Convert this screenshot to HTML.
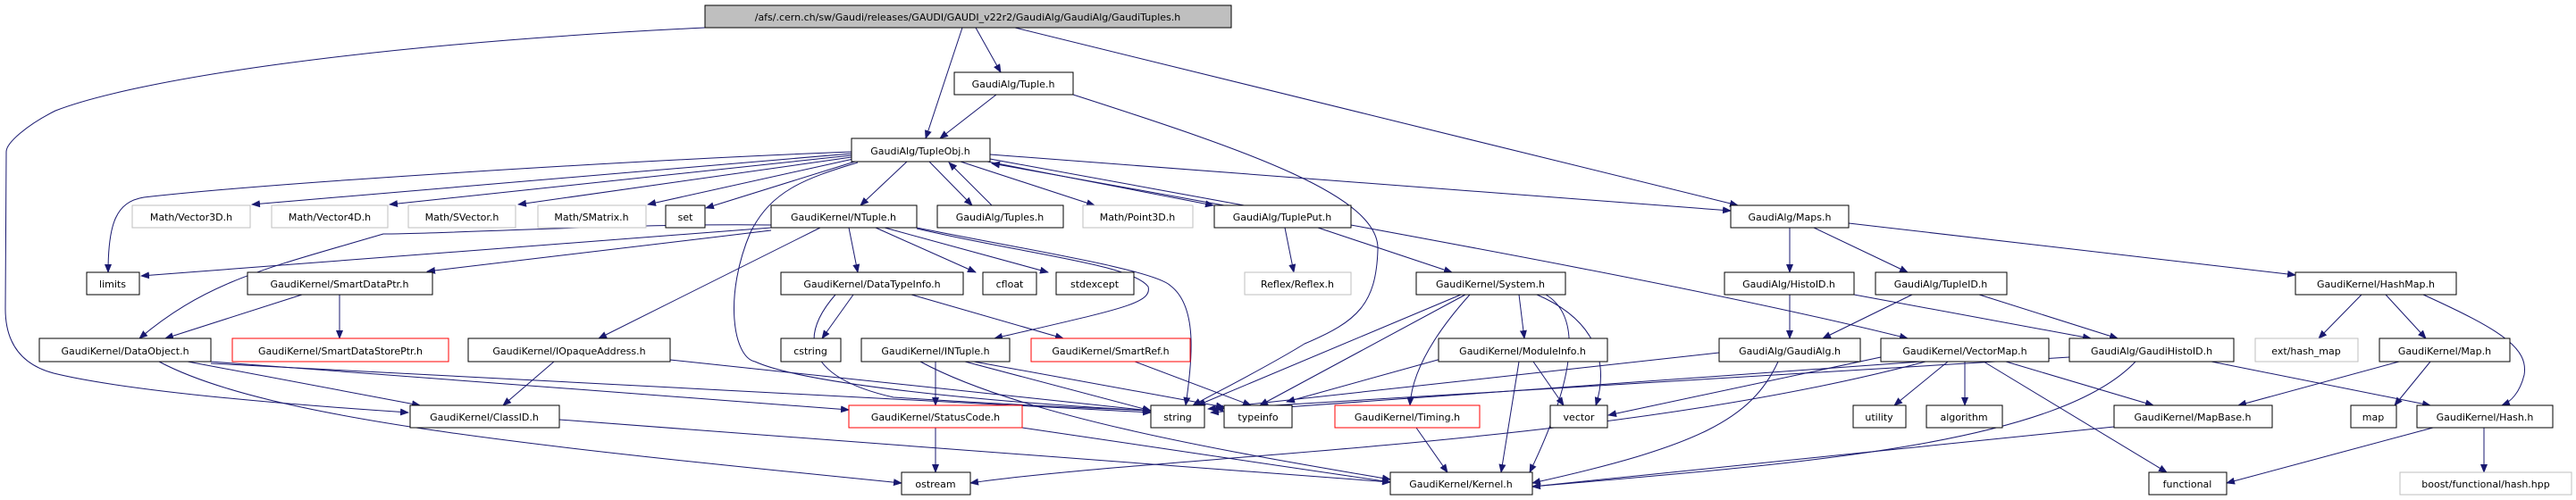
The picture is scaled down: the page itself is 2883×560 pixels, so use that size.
<!DOCTYPE html>
<html><head><meta charset="utf-8"><style>
html,body{margin:0;padding:0;background:#fff;}
svg{display:block}
text{font-family:"DejaVu Sans","Liberation Sans",sans-serif;font-size:11px;fill:#000;text-anchor:middle}
.e{fill:none;stroke:#191970;stroke-width:1}
.b{fill:#fff;stroke:#000;stroke-width:1}
.g{fill:#fff;stroke:#bfbfbf;stroke-width:1}
.r{fill:#fff;stroke:#ff0000;stroke-width:1}
</style></head><body>
<svg width="2883" height="560" viewBox="0 0 2883 560" xmlns="http://www.w3.org/2000/svg">
<defs><marker id="a" markerWidth="10" markerHeight="8" refX="9" refY="4" orient="auto" markerUnits="userSpaceOnUse"><path d="M0,0 L10,4 L0,8 z" fill="#191970"/></marker></defs>
<g class="e" marker-end="url(#a)">
<path d="M1077,31 L1036,155"/>
<path d="M1092,31 L1120,81"/>
<path d="M1136,31 L1945,230"/>
<path d="M789,31 C400,50 150,90 62,124 C30,140 7,160 7,170 L6,346 C6,390 30,410 60,418 C150,440 350,455 457,462"/>
<path d="M1115,106 L1052,155"/>
<path d="M1201,106 C1400,170 1545,220 1542,280 C1540,340 1520,360 1460,385 C1420,410 1360,440 1335,454"/>
<path d="M953,170 C700,180 300,205 161,221 C130,226 121,250 121,305"/>
<path d="M953,172 L282,229"/>
<path d="M953,174 L436,229"/>
<path d="M953,176 L580,229"/>
<path d="M955,178 L725,229"/>
<path d="M960,180 L790,233"/>
<path d="M1015,181 L963,230"/>
<path d="M1040,181 L1088,230"/>
<path d="M1110,230 L1062,182"/>
<path d="M1075,181 L1225,230"/>
<path d="M1105,181 L1358,230"/>
<path d="M1370,230 L1110,183"/>
<path d="M1108,173 L1937,236"/>
<path d="M960,182 C900,200 863,214 840,260 C810,330 820,400 845,405 C900,430 1100,450 1288,460"/>
<path d="M1108,178 C1500,250 1900,320 2135,379"/>
<path d="M863,252 C700,250 500,262 429,262 C300,300 233,314 156,379"/>
<path d="M863,255 L158,309"/>
<path d="M863,258 L478,304"/>
<path d="M918,255 L670,379"/>
<path d="M950,255 L960,305"/>
<path d="M980,255 L1092,305"/>
<path d="M990,255 L1173,305"/>
<path d="M1026,255 C1150,280 1291,302 1310,320 C1340,343 1335,400 1327,454"/>
<path d="M1026,256 C1150,285 1266,296 1285,321 C1290,340 1254,346 1113,379"/>
<path d="M955,330 L920,379"/>
<path d="M935,330 C900,370 890,420 1000,445 C1150,455 1250,458 1288,460"/>
<path d="M1020,330 L1190,379"/>
<path d="M338,330 L185,379"/>
<path d="M380,330 L380,379"/>
<path d="M620,405 L563,454"/>
<path d="M750,403 L1288,460"/>
<path d="M210,405 L470,454"/>
<path d="M178,405 C300,470 600,500 1009,541"/>
<path d="M236,405 L950,459"/>
<path d="M236,407 L1288,462"/>
<path d="M626,470 L1556,540"/>
<path d="M1047,479 L1047,529"/>
<path d="M1144,479 L1556,540"/>
<path d="M1047,405 L1047,454"/>
<path d="M1080,405 L1288,460"/>
<path d="M1090,405 L1370,456"/>
<path d="M1030,405 C1150,470 1400,510 1556,537"/>
<path d="M1270,405 L1400,454"/>
<path d="M1438,255 L1448,305"/>
<path d="M1475,255 L1625,305"/>
<path d="M1635,330 L1340,454"/>
<path d="M1640,330 L1410,454"/>
<path d="M1645,330 C1600,380 1580,420 1578,454"/>
<path d="M1700,330 L1706,379"/>
<path d="M1720,330 C1790,360 1800,410 1786,454"/>
<path d="M1730,330 C1780,360 1750,450 1712,529"/>
<path d="M1620,400 L1440,450"/>
<path d="M1716,405 L1750,454"/>
<path d="M1700,405 L1680,529"/>
<path d="M1585,479 L1620,529"/>
<path d="M2003,255 L2003,305"/>
<path d="M2030,255 L2135,305"/>
<path d="M2069,250 L2569,308"/>
<path d="M2003,330 L2003,379"/>
<path d="M2075,330 L2340,379"/>
<path d="M2140,330 L2040,379"/>
<path d="M2215,330 L2370,379"/>
<path d="M1924,395 L1352,458"/>
<path d="M1990,405 C1960,470 1900,500 1715,541"/>
<path d="M2105,400 L1800,465"/>
<path d="M2150,405 L1355,462"/>
<path d="M2155,405 C1800,500 1300,510 1086,541"/>
<path d="M2180,405 L2120,454"/>
<path d="M2199,405 L2199,454"/>
<path d="M2220,405 L2425,529"/>
<path d="M2245,405 L2410,454"/>
<path d="M2316,400 L1360,458"/>
<path d="M2390,405 C2300,500 2000,520 1715,545"/>
<path d="M2475,405 L2720,454"/>
<path d="M2643,330 L2595,379"/>
<path d="M2670,330 L2715,379"/>
<path d="M2712,330 C2800,370 2830,390 2825,420 C2820,440 2810,450 2800,454"/>
<path d="M2685,405 L2505,454"/>
<path d="M2720,405 L2680,454"/>
<path d="M2366,478 L1715,545"/>
<path d="M2723,479 L2492,541"/>
<path d="M2780,479 L2780,529"/>
</g>
<g>
<rect x="789" y="6" width="589" height="25" fill="#bfbfbf" stroke="#000"/><text x="1083" y="23">/afs/.cern.ch/sw/Gaudi/releases/GAUDI/GAUDI_v22r2/GaudiAlg/GaudiAlg/GaudiTuples.h</text>
<rect class="b" x="1068" y="81" width="133" height="25"/><text x="1134" y="98">GaudiAlg/Tuple.h</text>
<rect class="b" x="953" y="155" width="155" height="26"/><text x="1030" y="173">GaudiAlg/TupleObj.h</text>
<rect class="g" x="148" y="230" width="132" height="25"/><text x="214" y="247">Math/Vector3D.h</text>
<rect class="g" x="304" y="230" width="130" height="25"/><text x="369" y="247">Math/Vector4D.h</text>
<rect class="g" x="457" y="230" width="120" height="25"/><text x="517" y="247">Math/SVector.h</text>
<rect class="g" x="602" y="230" width="121" height="25"/><text x="662" y="247">Math/SMatrix.h</text>
<rect class="b" x="745" y="230" width="44" height="25"/><text x="767" y="247">set</text>
<rect class="b" x="863" y="230" width="163" height="25"/><text x="944" y="247">GaudiKernel/NTuple.h</text>
<rect class="b" x="1049" y="230" width="141" height="25"/><text x="1119" y="247">GaudiAlg/Tuples.h</text>
<rect class="g" x="1212" y="230" width="123" height="25"/><text x="1273" y="247">Math/Point3D.h</text>
<rect class="b" x="1359" y="230" width="153" height="25"/><text x="1435" y="247">GaudiAlg/TuplePut.h</text>
<rect class="b" x="1937" y="230" width="132" height="25"/><text x="2003" y="247">GaudiAlg/Maps.h</text>
<rect class="b" x="97" y="305" width="59" height="25"/><text x="126" y="322">limits</text>
<rect class="b" x="277" y="305" width="207" height="25"/><text x="380" y="322">GaudiKernel/SmartDataPtr.h</text>
<rect class="b" x="874" y="305" width="204" height="25"/><text x="976" y="322">GaudiKernel/DataTypeInfo.h</text>
<rect class="b" x="1100" y="305" width="60" height="25"/><text x="1130" y="322">cfloat</text>
<rect class="b" x="1182" y="305" width="87" height="25"/><text x="1225" y="322">stdexcept</text>
<rect class="g" x="1393" y="305" width="119" height="25"/><text x="1452" y="322">Reflex/Reflex.h</text>
<rect class="b" x="1585" y="305" width="167" height="25"/><text x="1668" y="322">GaudiKernel/System.h</text>
<rect class="b" x="1930" y="305" width="145" height="25"/><text x="2002" y="322">GaudiAlg/HistoID.h</text>
<rect class="b" x="2099" y="305" width="147" height="25"/><text x="2172" y="322">GaudiAlg/TupleID.h</text>
<rect class="b" x="2569" y="305" width="180" height="25"/><text x="2659" y="322">GaudiKernel/HashMap.h</text>
<rect class="b" x="44" y="379" width="192" height="26"/><text x="140" y="397">GaudiKernel/DataObject.h</text>
<rect class="r" x="260" y="379" width="242" height="26"/><text x="381" y="397">GaudiKernel/SmartDataStorePtr.h</text>
<rect class="b" x="524" y="379" width="226" height="26"/><text x="637" y="397">GaudiKernel/IOpaqueAddress.h</text>
<rect class="b" x="874" y="379" width="67" height="26"/><text x="907" y="397">cstring</text>
<rect class="b" x="964" y="379" width="166" height="26"/><text x="1047" y="397">GaudiKernel/INTuple.h</text>
<rect class="r" x="1154" y="379" width="178" height="26"/><text x="1243" y="397">GaudiKernel/SmartRef.h</text>
<rect class="b" x="1610" y="379" width="189" height="26"/><text x="1704" y="397">GaudiKernel/ModuleInfo.h</text>
<rect class="b" x="1924" y="379" width="158" height="26"/><text x="2003" y="397">GaudiAlg/GaudiAlg.h</text>
<rect class="b" x="2105" y="379" width="188" height="26"/><text x="2199" y="397">GaudiKernel/VectorMap.h</text>
<rect class="b" x="2316" y="379" width="184" height="26"/><text x="2408" y="397">GaudiAlg/GaudiHistoID.h</text>
<rect class="g" x="2524" y="379" width="115" height="26"/><text x="2581" y="397">ext/hash_map</text>
<rect class="b" x="2663" y="379" width="146" height="26"/><text x="2736" y="397">GaudiKernel/Map.h</text>
<rect class="b" x="459" y="454" width="167" height="25"/><text x="542" y="471">GaudiKernel/ClassID.h</text>
<rect class="r" x="950" y="454" width="194" height="25"/><text x="1047" y="471">GaudiKernel/StatusCode.h</text>
<rect class="b" x="1288" y="454" width="60" height="25"/><text x="1318" y="471">string</text>
<rect class="b" x="1370" y="454" width="76" height="25"/><text x="1408" y="471">typeinfo</text>
<rect class="r" x="1494" y="454" width="162" height="25"/><text x="1575" y="471">GaudiKernel/Timing.h</text>
<rect class="b" x="1735" y="454" width="64" height="25"/><text x="1767" y="471">vector</text>
<rect class="b" x="2074" y="454" width="59" height="25"/><text x="2103" y="471">utility</text>
<rect class="b" x="2156" y="454" width="85" height="25"/><text x="2198" y="471">algorithm</text>
<rect class="b" x="2366" y="454" width="177" height="25"/><text x="2454" y="471">GaudiKernel/MapBase.h</text>
<rect class="b" x="2631" y="454" width="51" height="25"/><text x="2656" y="471">map</text>
<rect class="b" x="2705" y="454" width="152" height="25"/><text x="2781" y="471">GaudiKernel/Hash.h</text>
<rect class="b" x="1009" y="529" width="77" height="25"/><text x="1047" y="546">ostream</text>
<rect class="b" x="1556" y="529" width="159" height="25"/><text x="1635" y="546">GaudiKernel/Kernel.h</text>
<rect class="b" x="2405" y="529" width="87" height="25"/><text x="2448" y="546">functional</text>
<rect class="g" x="2686" y="529" width="192" height="25"/><text x="2782" y="546">boost/functional/hash.hpp</text>
</g>
</svg>
</body></html>
